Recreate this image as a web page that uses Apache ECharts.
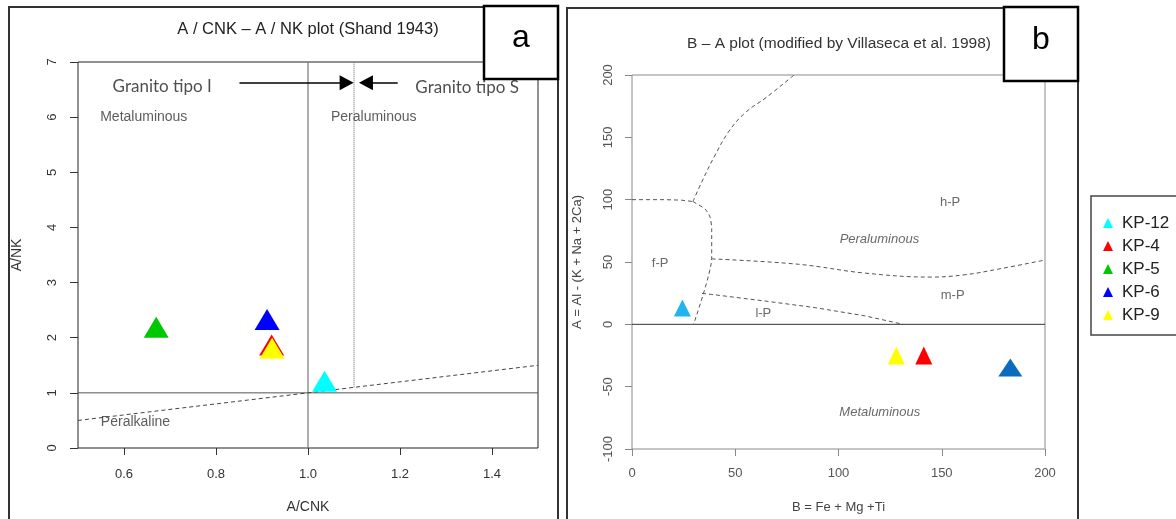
<!DOCTYPE html>
<html>
<head>
<meta charset="utf-8">
<script src="https://cdn.jsdelivr.net/npm/echarts@6/dist/echarts.min.js"></script>
<style>
  html, body { margin: 0; padding: 0; background: #fff; }
  #chart { width: 1176px; height: 519px; }
</style>
</head>
<body>
<div id="chart"></div>
<script>
// Samples and their coordinates in the two discrimination diagrams
const samples = ['KP-12', 'KP-4', 'KP-5', 'KP-6', 'KP-9'];
const acnk = [1.036, 0.921, 0.670, 0.911, 0.922];
const ank = [1.21, 1.87, 2.19, 2.33, 1.81];
const leftColors = ['#00ffff', '#ff0000', '#00c800', '#0000ff', '#ffff00'];

const bParam = [24.4, 141.3, null, 183.2, 128.0];
const aParam = [13.2, -24.9, null, -34.6, -24.9];
const rightColors = ['#22b4ee', '#ff0000', null, '#0b6cbd', '#ffff00'];
const rightSizes = [[17, 17], [17, 18], null, [24, 18], [17, 18]];

// Axis ticks
const acnkTicks = [0.6, 0.8, 1.0, 1.2, 1.4];

// Shand diagram reference lines
const unityH = [[0.5, 1], [1.5, 1]];
const unityV = [[1, 0], [1, 7]];
const typeDivide = [[1.1, 1.1], [1.1, 7]];
const alkaliLine = [[0.5, 0.5], [1.5, 1.5]];
const arrowY = 6.624;
const arrowI = [0.851, 1.084];
const arrowS = [1.195, 1.126];

// B-A diagram field boundaries
const hpBoundary = [[29.5, 98.5], [34, 115], [40, 135], [47, 155], [55, 170], [65, 182], [78.5, 200]];
const fpTop = [[0, 100], [16, 100], [24, 99.6], [29.5, 98.5]];
const fpSide = [[29.5, 98.5], [35.4, 92.5], [37.8, 86], [38.6, 76.7], [38.6, 53], [29.8, 0]];
const mpBoundary = [[38.6, 52.5], [80.5, 48.2], [112.8, 41.1], [145.1, 37.9], [161.3, 39.8], [177.4, 44.3], [200, 51.6]];
const lpBoundary = [[33.9, 24.8], [38.6, 24], [64.4, 18.7], [88.6, 13.4], [112.8, 6.8], [131.4, 0]];
const zeroLine = [[0, 0], [200, 0]];

// Field names: [text, x, y, italic]
const shandLabels = [
  ['Metaluminous', 0.643, 6.0, false],
  ['Peraluminous', 1.143, 6.0, false],
  ['Peralkaline', 0.625, 0.47, false]
];
const graniteLabels = [
  ['Granito tipo I', 0.683, 6.56],
  ['Granito tipo S', 1.346, 6.54]
];
const baLabels = [
  ['h-P', 154, 97.7, false],
  ['Peraluminous', 119.8, 68.2, true],
  ['f-P', 13.6, 49, false],
  ['m-P', 155.3, 23.5, false],
  ['l-P', 63.6, 8.7, false],
  ['Metaluminous', 120, -71, true]
];

const FONT = '"Liberation Sans", Arial, sans-serif';

function refLine(data, axis, color, type, width) {
  return {
    type: 'line', xAxisIndex: axis, yAxisIndex: axis, data: data,
    showSymbol: false, symbol: 'none', silent: true, z: 2,
    lineStyle: { color: color, type: type, width: width || 1 }
  };
}

function labelSeries(list, axis, size, color, font) {
  return {
    type: 'scatter', xAxisIndex: axis, yAxisIndex: axis, silent: true,
    symbolSize: 0, z: 3,
    data: list.map(d => ({
      value: [d[1], d[2]],
      name: d[0],
      label: { fontStyle: d[3] ? 'italic' : 'normal' }
    })),
    label: {
      show: true, position: 'inside', formatter: p => p.name,
      color: color, fontSize: size, fontFamily: font || FONT
    }
  };
}

const series = [];

// Left diagram lines
const hLine = refLine(unityH, 0, '#555', 'solid', 1);
hLine.markLine = {
  silent: true,
  symbol: ['none', 'triangle'],
  symbolSize: [15, 14],
  label: { show: false },
  lineStyle: { color: '#000', type: 'solid', width: 1.6 },
  data: [
    [{ coord: [arrowI[0], arrowY] }, { coord: [arrowI[1], arrowY] }],
    [{ coord: [arrowS[0], arrowY] }, { coord: [arrowS[1], arrowY] }]
  ]
};
series.push(hLine);
series.push(refLine(unityV, 0, '#777', 'solid', 1.2));
series.push(refLine(typeDivide, 0, '#666', 'dotted', 1));
series.push(refLine(alkaliLine, 0, '#444', [4, 3], 1));
series.push(labelSeries(shandLabels, 0, 14, '#333'));
series.push(labelSeries(graniteLabels, 0, 17, '#222', 'Lato, "Open Sans", sans-serif'));

// Right diagram lines
series.push(refLine(zeroLine, 1, '#333', 'solid', 1));
const hp = refLine(hpBoundary, 1, '#555', [4, 3], 1); hp.smooth = 0.4; series.push(hp);
series.push(refLine(fpTop, 1, '#555', [4, 3], 1));
const fs = refLine(fpSide, 1, '#555', [4, 3], 1); fs.smooth = 0.2; series.push(fs);
const mp = refLine(mpBoundary, 1, '#555', [4, 3], 1); mp.smooth = 0.4; series.push(mp);
series.push(refLine(lpBoundary, 1, '#555', [4, 3], 1));
series.push(labelSeries(baLabels, 1, 13, '#444'));

// Samples
samples.forEach((name, i) => {
  series.push({
    name: name, type: 'scatter', xAxisIndex: 0, yAxisIndex: 0,
    symbol: 'triangle', symbolSize: [25, 21], z: 5,
    itemStyle: { color: leftColors[i], opacity: 1 },
    data: [[acnk[i], ank[i]]]
  });
});
samples.forEach((name, i) => {
  if (bParam[i] === null) return;
  series.push({
    name: name, type: 'scatter', xAxisIndex: 1, yAxisIndex: 1,
    symbol: 'triangle', symbolSize: rightSizes[i], z: 5,
    itemStyle: { color: rightColors[i], opacity: 1 },
    data: [[bParam[i], aParam[i]]]
  });
});

const chart = echarts.init(document.getElementById('chart'), null, { renderer: 'canvas' });

const option = {
  animation: false,
  backgroundColor: '#fff',
  textStyle: { fontFamily: FONT },
  grid: [
    { left: 78, top: 62, width: 460, height: 391, show: true, borderColor: '#222', borderWidth: 1, backgroundColor: 'transparent' },
    { left: 632, top: 75, width: 413, height: 378, show: true, borderColor: '#8a8a8a', borderWidth: 1, backgroundColor: 'transparent' }
  ],
  xAxis: [
    {
      type: 'value', gridIndex: 0, min: 0.5, max: 1.5,
      name: 'A/CNK', nameLocation: 'middle', nameGap: 52,
      nameTextStyle: { color: '#333', fontSize: 14, fontFamily: FONT },
      axisLine: { show: false, onZero: false },
      axisTick: { show: true, customValues: acnkTicks, length: 7, lineStyle: { color: '#333' } },
      axisLabel: { customValues: acnkTicks, formatter: v => v.toFixed(1), margin: 20, color: '#333', fontSize: 13 },
      splitLine: { show: false }
    },
    {
      type: 'value', gridIndex: 1, min: 0, max: 200, interval: 50,
      name: 'B = Fe + Mg +Ti', nameLocation: 'middle', nameGap: 52,
      nameTextStyle: { color: '#444', fontSize: 13, fontFamily: FONT },
      axisLine: { show: false, onZero: false },
      axisTick: { show: true, length: 7, lineStyle: { color: '#888' } },
      axisLabel: { margin: 18, color: '#555', fontSize: 13 },
      splitLine: { show: false }
    }
  ],
  yAxis: [
    {
      type: 'value', gridIndex: 0, min: 0, max: 7, interval: 1,
      name: 'A/NK', nameLocation: 'middle', nameGap: 54, nameRotate: 90,
      nameTextStyle: { color: '#333', fontSize: 14, fontFamily: FONT },
      axisLine: { show: false, onZero: false },
      axisTick: { show: true, length: 8, lineStyle: { color: '#333' } },
      axisLabel: { rotate: 90, margin: 19, color: '#333', fontSize: 13 },
      splitLine: { show: false }
    },
    {
      type: 'value', gridIndex: 1, min: -100, max: 200, interval: 50,
      name: 'A = Al - (K + Na + 2Ca)', nameLocation: 'middle', nameGap: 48, nameRotate: 90,
      nameTextStyle: { color: '#444', fontSize: 13, fontFamily: FONT },
      axisLine: { show: false, onZero: false },
      axisTick: { show: true, length: 7, lineStyle: { color: '#888' } },
      axisLabel: { rotate: 90, margin: 17, color: '#555', fontSize: 13 },
      splitLine: { show: false }
    }
  ],
  legend: {
    data: samples, orient: 'vertical', left: 1098, top: 209,
    icon: 'triangle', itemWidth: 10, itemHeight: 10, itemGap: 5,
    selectedMode: false,
    textStyle: { color: '#222', fontSize: 17, lineHeight: 18, padding: [0, 0, 0, 4], fontFamily: FONT }
  },
  graphic: [
    // panel frames
    { type: 'rect', shape: { x: 9, y: 7, width: 549, height: 530 }, style: { fill: 'none', stroke: '#333', lineWidth: 2 }, z: 1, silent: true },
    { type: 'rect', shape: { x: 567, y: 8, width: 511, height: 530 }, style: { fill: 'none', stroke: '#333', lineWidth: 2 }, z: 1, silent: true },
    // titles
    { type: 'text', x: 308, y: 29, style: { text: 'A / CNK – A / NK plot (Shand 1943)', font: '16.5px ' + FONT, fill: '#222', textAlign: 'center', textVerticalAlign: 'middle', align: 'center', verticalAlign: 'middle' }, z: 10, silent: true },
    { type: 'text', x: 839, y: 44, style: { text: 'B – A plot (modified by Villaseca et al. 1998)', font: '15.5px ' + FONT, fill: '#333', textAlign: 'center', textVerticalAlign: 'middle', align: 'center', verticalAlign: 'middle' }, z: 10, silent: true },
    // panel tags
    { type: 'rect', shape: { x: 484, y: 6, width: 74, height: 73 }, style: { fill: '#fff', stroke: '#000', lineWidth: 2.5 }, z: 20, silent: true },
    { type: 'text', x: 521, y: 38, style: { text: 'a', font: '32px ' + FONT, fill: '#000', textAlign: 'center', textVerticalAlign: 'middle', align: 'center', verticalAlign: 'middle' }, z: 21, silent: true },
    { type: 'rect', shape: { x: 1004, y: 7, width: 74, height: 74 }, style: { fill: '#fff', stroke: '#000', lineWidth: 2.5 }, z: 20, silent: true },
    { type: 'text', x: 1041, y: 40, style: { text: 'b', font: '32px ' + FONT, fill: '#000', textAlign: 'center', textVerticalAlign: 'middle', align: 'center', verticalAlign: 'middle' }, z: 21, silent: true },
    // legend frame
    { type: 'rect', shape: { x: 1091, y: 196, width: 120, height: 139 }, style: { fill: 'none', stroke: '#444', lineWidth: 1.5 }, z: 1, silent: true }
  ],
  series: series
};

chart.setOption(option);
</script>
</body>
</html>
